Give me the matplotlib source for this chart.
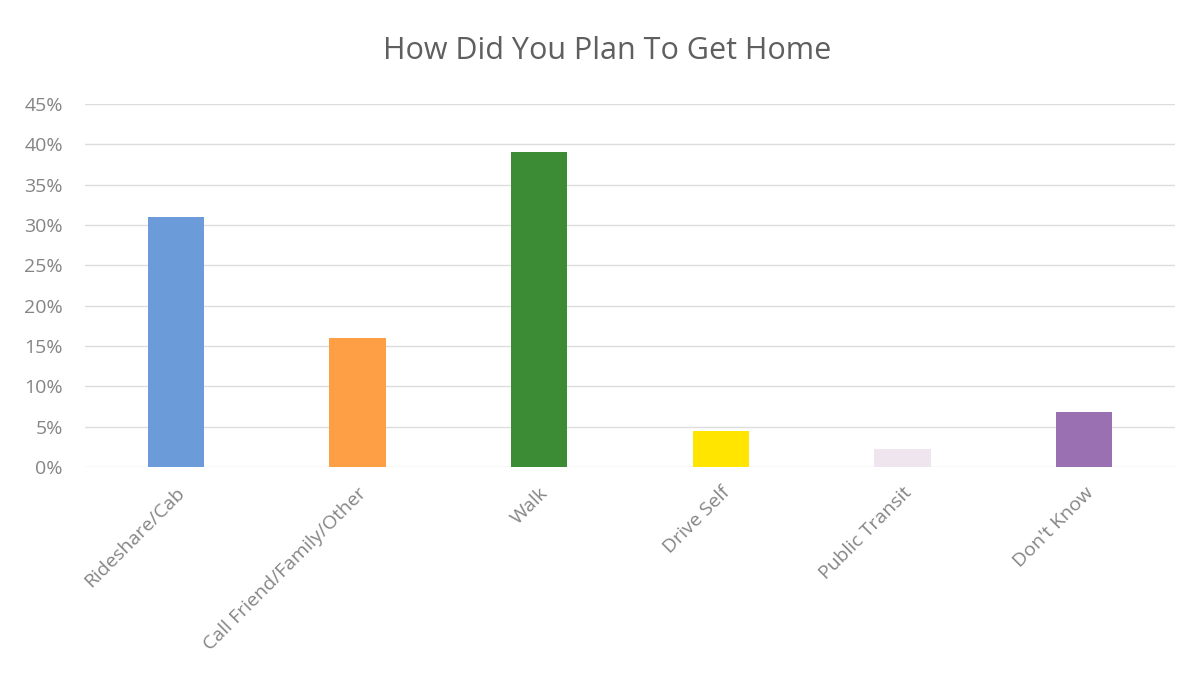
import matplotlib
matplotlib.use("Agg")
import matplotlib.pyplot as plt
from matplotlib.ticker import PercentFormatter

categories = ["Rideshare/Cab", "Call Friend/Family/Other", "Walk", "Drive Self", "Public Transit", "Don't Know"]
values = [0.31, 0.16, 0.39, 0.045, 0.022, 0.068]
colors = ["#6B9BD9", "#FF9F45", "#3C8B35", "#FFE500", "#EEE5EE", "#9B70B2"]
yticks = [0, 0.05, 0.10, 0.15, 0.20, 0.25, 0.30, 0.35, 0.40, 0.45]

plt.rcParams['font.family'] = ['Open Sans', 'DejaVu Sans']
txt = "#858585"

fig = plt.figure(figsize=(11.99, 6.83), dpi=100)
ax = fig.add_axes([0.071, 0.316, 0.909, 0.532])
x = range(len(categories))
ax.bar(x, values, width=0.31, color=colors, zorder=3)
ax.set_xlim(-0.5, len(categories) - 0.5)
ax.set_ylim(0, 0.45)
ax.set_yticks(yticks)
ax.yaxis.set_major_formatter(PercentFormatter(1.0, decimals=0))
ax.grid(axis='y', color="#DDDDDD", linewidth=1, zorder=0)
for s in ax.spines.values():
    s.set_visible(False)
ax.tick_params(axis='both', length=0, colors=txt, labelsize=14)
ax.tick_params(axis='y', pad=16)
ax.set_xticks(list(x))
ax.set_xticklabels(categories, rotation=45, ha='right', rotation_mode='anchor')
ax.tick_params(axis='x', pad=12)
fig.text(0.506, 0.926, "How Did You Plan To Get Home", ha='center', va='center',
         fontsize=22, color="#5F5F5F")
fig.savefig("out.png", dpi=100)
